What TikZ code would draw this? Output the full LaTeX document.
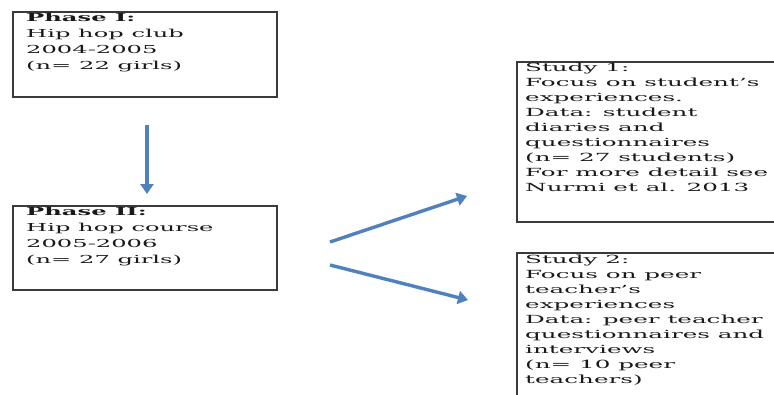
\documentclass[tikz,border=0pt]{standalone}
\usepackage{fontspec}
\setmainfont[FakeStretch=2.2]{DejaVu Serif}
\usetikzlibrary{arrows.meta}
\definecolor{arrowblue}{HTML}{4F81BD}
\definecolor{boxgray}{HTML}{3A3A3A}
\tikzset{
  frame/.style={draw=boxgray, line width=2.2pt, fill=white},
  boxtext/.style={anchor=north west, inner sep=0pt, align=left, text=black!90},
  bluearrow/.style={draw=arrowblue, line width=3.4pt, -{Triangle[length=10pt,width=13pt]}},
}
\begin{document}
\begin{tikzpicture}[x=1pt,y=1pt]
\clip (0,0) rectangle (774,-394);
\fill[white] (0,0) rectangle (774,-394);
% boxes
\draw[frame] (13,-12) rectangle (277,-97);
\draw[frame] (13,-206) rectangle (277,-290);
\draw[frame] (517,-62) rectangle (800,-222);
\draw[frame] (517,-253) rectangle (800,-430);
% texts
\node[boxtext, font=\fontsize{11}{16}\selectfont] (p1) at (26,-13)
  {\textbf{Phase I:}\\Hip hop club\\2004-2005\\(n= 22 girls)};
\node[boxtext, font=\fontsize{11}{16}\selectfont] (p2) at (26,-207)
  {\textbf{Phase II:}\\Hip hop course\\2005-2006\\(n= 27 girls)};
\node[boxtext, font=\fontsize{11.2}{15}\selectfont] (s1) at (525,-63)
  {Study 1:\\Focus on student's\\experiences.\\Data: student\\diaries and\\questionnaires\\(n= 27 students)\\For more detail see\\Nurmi et al. 2013};
\node[boxtext, font=\fontsize{11.2}{15}\selectfont] (s2) at (525,-255)
  {Study 2:\\Focus on peer\\teacher's\\experiences\\Data: peer teacher\\questionnaires and\\interviews\\(n= 10 peer\\teachers)};
% arrows
\coordinate (d1) at (147,-125);
\coordinate (d2) at (147,-194);
\coordinate (u1) at (330,-242);
\coordinate (u2) at (467,-196);
\coordinate (l1) at (330,-265);
\coordinate (l2) at (468,-300);
\draw[bluearrow] (d1) -- (d2);
\draw[bluearrow] (u1) -- (u2);
\draw[bluearrow] (l1) -- (l2);
\end{tikzpicture}
\end{document}
